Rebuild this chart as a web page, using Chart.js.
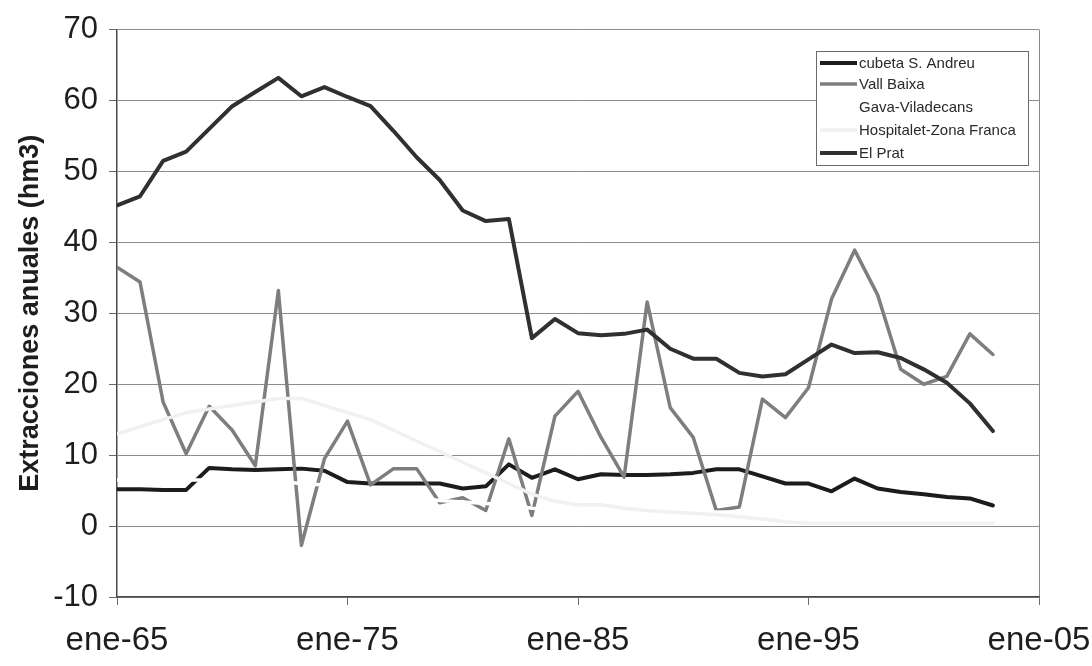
<!DOCTYPE html>
<html>
<head>
<meta charset="utf-8">
<script src="https://cdn.jsdelivr.net/npm/chart.js@4"></script>
<style>
  html, body { margin: 0; padding: 0; background: #ffffff; }
  #wrap { width: 1092px; height: 666px; }
</style>
</head>
<body>
<div id="wrap"><canvas id="c" width="1092" height="666"></canvas></div>
<script>
// Annual groundwater extractions (hm3) per aquifer sector, 1965-2003
const years = [1965,1966,1967,1968,1969,1970,1971,1972,1973,1974,1975,1976,1977,1978,1979,1980,1981,1982,1983,1984,1985,1986,1987,1988,1989,1990,1991,1992,1993,1994,1995,1996,1997,1998,1999,2000,2001,2002,2003];

const cubetaSAndreu = [5.2,5.2,5.1,5.1,8.2,8.0,7.9,8.0,8.1,7.8,6.2,6.0,6.0,6.0,6.0,5.3,5.6,8.7,6.8,8.0,6.6,7.3,7.2,7.2,7.3,7.5,8.0,8.0,7.0,6.0,6.0,4.9,6.7,5.3,4.8,4.5,4.1,3.9,2.9];
const vallBaixa = [36.5,34.4,17.5,10.2,16.9,13.5,8.5,33.2,-2.7,9.5,14.8,5.8,8.1,8.1,3.3,4.0,2.2,12.3,1.5,15.5,19.0,12.5,6.9,31.6,16.7,12.5,2.2,2.7,17.9,15.3,19.5,32.0,38.9,32.6,22.1,20.0,21.1,27.1,24.2];
const gavaViladecans = [6.5,6.5,6.5,6.5,6.5,6.5,6.5,6.3,6.0,5.8,5.5,5.0,4.5,4.0,3.6,3.4,3.2,3.0,2.5,2.4,2.3,2.2,2.2,2.1,2.1,2.1,2.0,2.0,1.8,1.6,1.4,1.3,1.2,1.1,1.0,1.0,0.9,0.9,0.8];
const hospitaletZonaFranca = [13.0,14.0,15.0,16.0,16.5,17.0,17.5,18.0,18.0,17.0,16.0,15.0,13.5,12.0,10.5,9.0,7.5,6.0,4.5,3.5,3.0,3.0,2.5,2.2,2.0,1.8,1.6,1.3,1.0,0.6,0.4,0.4,0.4,0.4,0.4,0.4,0.4,0.4,0.4];
const elPrat = [45.2,46.5,51.5,52.8,56.0,59.2,61.2,63.2,60.6,61.9,60.5,59.2,55.7,52.0,48.8,44.5,43.0,43.3,26.5,29.2,27.2,26.9,27.1,27.7,25.0,23.6,23.6,21.6,21.1,21.4,23.5,25.6,24.4,24.5,23.7,22.1,20.2,17.3,13.4];

const seriesNames = ['cubeta S. Andreu', 'Vall Baixa', 'Gava-Viladecans', 'Hospitalet-Zona Franca', 'El Prat'];
const xTickLabels = ['ene-65', 'ene-75', 'ene-85', 'ene-95', 'ene-05'];
const yTicks = [-10, 0, 10, 20, 30, 40, 50, 60, 70];

const toPoints = vals => vals.map((v, i) => ({ x: years[i], y: v }));

// Boxed legend inside the plot, top right, with short line samples
const boxLegend = {
  id: 'boxLegend',
  afterDraw(chart) {
    const ctx = chart.ctx;
    const x0 = 816, y0 = 51, w = 212, h = 114;
    ctx.save();
    ctx.fillStyle = '#ffffff';
    ctx.fillRect(x0, y0, w, h);
    ctx.strokeStyle = '#6a6a6a';
    ctx.lineWidth = 1;
    ctx.strokeRect(x0 + 0.5, y0 + 0.5, w, h);
    ctx.font = '15px "Liberation Sans", Arial, sans-serif';
    ctx.textBaseline = 'middle';
    const rowY = [63, 84, 107, 130, 153];
    chart.data.datasets.forEach((ds, i) => {
      const y = rowY[i];
      ctx.beginPath();
      ctx.strokeStyle = ds.borderColor;
      ctx.lineWidth = ds.borderWidth;
      ctx.moveTo(820, y);
      ctx.lineTo(857, y);
      ctx.stroke();
      ctx.fillStyle = '#2a2a2a';
      ctx.fillText(ds.label, 859, y + 1);
    });
    ctx.restore();
  }
};

const common = { pointRadius: 0, tension: 0, borderJoinStyle: 'round', borderCapStyle: 'round', fill: false };

new Chart(document.getElementById('c'), {
  type: 'line',
  data: {
    datasets: [
      { ...common, label: seriesNames[0], data: toPoints(cubetaSAndreu), borderColor: '#1c1c1c', borderWidth: 4, order: 4 },
      { ...common, label: seriesNames[1], data: toPoints(vallBaixa), borderColor: '#7e7e7e', borderWidth: 3.5, order: 3 },
      { ...common, label: seriesNames[2], data: toPoints(gavaViladecans), borderColor: '#ffffff', borderWidth: 3.5, order: 2 },
      { ...common, label: seriesNames[3], data: toPoints(hospitaletZonaFranca), borderColor: '#f1f1f1', borderWidth: 3.5, order: 1 },
      { ...common, label: seriesNames[4], data: toPoints(elPrat), borderColor: '#303030', borderWidth: 4, order: 0 }
    ]
  },
  options: {
    responsive: false,
    animation: false,
    layout: { padding: { top: 25, right: 53, bottom: 0, left: 0 } },
    plugins: { legend: { display: false }, tooltip: { enabled: false } },
    scales: {
      x: {
        type: 'linear',
        min: 1965,
        max: 2005,
        afterBuildTicks: s => { s.ticks = [1965, 1975, 1985, 1995, 2005].map(v => ({ value: v })); },
        afterFit: s => { s.height = 69; s.paddingLeft = 0; s.paddingRight = 0; },
        ticks: {
          callback: (v, i) => xTickLabels[i],
          font: { family: '"Liberation Sans", Arial, sans-serif', size: 33 },
          color: '#1e1e1e',
          padding: 16,
          maxRotation: 0,
          autoSkip: false
        },
        grid: {
          drawOnChartArea: true,
          color: c => (c.tick && c.tick.value === 2005 ? '#8a8a8a' : 'rgba(0,0,0,0)'),
          tickColor: '#6a6a6a',
          tickLength: 8,
          lineWidth: 1
        },
        border: { display: true, color: '#4a4a4a', width: 1.5 }
      },
      y: {
        min: -10,
        max: 70,
        afterBuildTicks: s => { s.ticks = yTicks.map(v => ({ value: v })); },
        afterFit: s => { s.width = 117; },
        ticks: {
          font: { family: '"Liberation Sans", Arial, sans-serif', size: 31 },
          color: '#1e1e1e',
          padding: 11
        },
        grid: { color: '#8c8c8c', lineWidth: 1, tickColor: '#6a6a6a', tickLength: 8 },
        border: { display: true, color: '#4a4a4a', width: 1.5 },
        title: {
          display: true,
          text: 'Extracciones anuales (hm3)',
          font: { family: '"Liberation Sans", Arial, sans-serif', size: 27, weight: 'bold' },
          color: '#1e1e1e',
          padding: { top: 14, bottom: 0 }
        }
      }
    }
  },
  plugins: [boxLegend]
});
</script>
</body>
</html>
